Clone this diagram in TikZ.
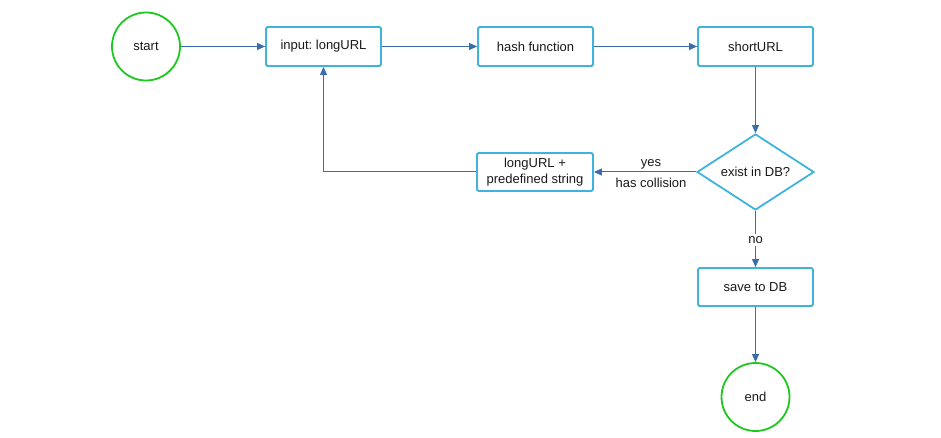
\documentclass[tikz,border=0pt]{standalone}
\usepackage{fontspec}
\setmainfont{Liberation Sans}
\frenchspacing
\usetikzlibrary{shapes.geometric,arrows.meta}
\definecolor{boxblue}{RGB}{62,180,220}
\definecolor{arrowblue}{RGB}{58,110,168}
\definecolor{termgreen}{RGB}{30,200,30}
\begin{document}
\begin{tikzpicture}[x=1pt,y=-1pt,
  every node/.style={font=\fontsize{13}{15.5}\selectfont, text=black!90, align=center},
  procbox/.style={draw=boxblue, line width=1.8pt, rounded corners=1.5pt, minimum width=115pt, minimum height=39pt, inner sep=0pt},
  termcircle/.style={draw=termgreen, line width=1.8pt, circle, minimum size=68pt, inner sep=0pt},
  decision/.style={draw=boxblue, line width=1.8pt, diamond, minimum width=117pt, minimum height=76pt, inner sep=0pt, aspect=1.54},
  flow/.style={draw=arrowblue, line width=1pt, -{Triangle[length=8pt,width=7pt]}},
  lbl/.style={font=\fontsize{13}{15.5}\selectfont}
]
\useasboundingbox (0,0) rectangle (941,438);
\node[termcircle] (start) at (146,46.5) {start};
\node[procbox] (input) at (323.5,46.5) {input: longURL};
\node[procbox] (hash) at (535.5,46.5) {hash function};
\node[procbox] (short) at (755.5,46.5) {shortURL};
\node[decision] (exist) at (755.5,172) {exist in DB?};
\node[procbox, minimum width=116pt, minimum height=38pt] (pre) at (535,172) {longURL +\\predefined string};
\node[procbox, minimum height=38pt] (save) at (755.5,287) {save to DB};
\node[termcircle] (end) at (755.5,397) {end};

\draw[flow] (start) -- (input);
\draw[flow] (input) -- (hash);
\draw[flow] (hash) -- (short);
\draw[flow] (short) -- (exist);
\draw[flow] (exist) -- node[lbl, above=-1pt, xshift=6pt] {yes} node[lbl, below=2pt, xshift=6pt] {has collision} (pre);
\draw[flow] (pre.west) -| (input.south);
\draw[flow] (exist) -- node[lbl, fill=white, inner sep=2pt, yshift=-1pt] {no} (save);
\draw[flow] (save) -- (end);
\end{tikzpicture}
\end{document}
